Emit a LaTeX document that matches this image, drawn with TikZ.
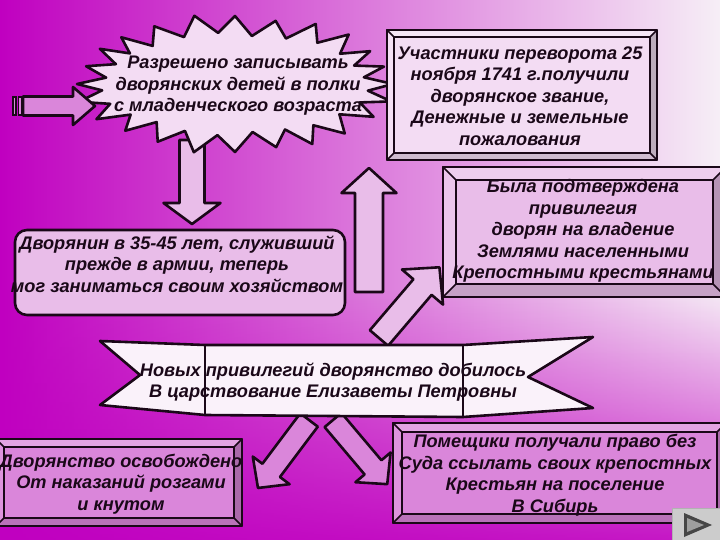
\documentclass[tikz,border=0pt]{standalone}
\usepackage{fontspec}
\setmainfont{Liberation Sans}
\usetikzlibrary{calc, fadings}

\definecolor{bgmag}{HTML}{C000C0}
\definecolor{bglight}{HTML}{F6EEF6}
\definecolor{inkdark}{HTML}{1A0818}
\definecolor{palepink}{HTML}{F3DCF3}
\definecolor{lightpink}{HTML}{E9BDE9}
\definecolor{midpink}{HTML}{DA86DA}
\definecolor{ribbon}{HTML}{FAF2FA}

% block arrow: tail, angle, length, shaft half width, head half width, head length, fill
\newcommand{\blkarrow}[7]{%
  \begin{scope}[shift={(#1)}, rotate=#2]
    \filldraw[shapeline, fill=#7] (0,-#4) -- ({#3-#6},-#4) -- ({#3-#6},-#5) -- (#3,0)
      -- ({#3-#6},#5) -- ({#3-#6},#4) -- (0,#4) -- cycle;
  \end{scope}}

% bevelled box: x1, y1, x2, y2, inset, fill
\newcommand{\bevelbox}[6]{%
  \filldraw[shapeline, fill=#6] (#1,#2) rectangle (#3,#4);
  \fill[#6!75!white] (#1,#2) -- (#3,#2) -- ({#3-#5},{#2+#5}) -- ({#1+#5},{#2+#5}) -- cycle;
  \fill[#6!88!white] (#1,#2) -- ({#1+#5},{#2+#5}) -- ({#1+#5},{#4-#5}) -- (#1,#4) -- cycle;
  \fill[#6!78!black] (#3,#2) -- ({#3-#5},{#2+#5}) -- ({#3-#5},{#4-#5}) -- (#3,#4) -- cycle;
  \fill[#6!85!black] (#1,#4) -- ({#1+#5},{#4-#5}) -- ({#3-#5},{#4-#5}) -- (#3,#4) -- cycle;
  \draw[shapeline] (#1,#2) rectangle (#3,#4);
  \draw[innerline] ({#1+#5},{#2+#5}) rectangle ({#3-#5},{#4-#5});
  \draw[innerline] (#1,#2) -- ({#1+#5},{#2+#5}) (#3,#2) -- ({#3-#5},{#2+#5})
    (#1,#4) -- ({#1+#5},{#4-#5}) (#3,#4) -- ({#3-#5},{#4-#5});}

\begin{document}
\begin{tikzpicture}[
    x=1pt, y=-1pt,
    shapeline/.style={draw=inkdark, line width=2.6pt, line join=round},
    innerline/.style={draw=inkdark, line width=1.6pt},
    txt/.style={
        align=center,
        inner sep=0pt,
        text=inkdark,
        font=\bfseries\itshape\fontsize{18.2}{21.5}\selectfont
    }
]
\useasboundingbox (0,0) rectangle (720,540);
\clip (0,0) rectangle (720,540);

% Background
\shade[left color=bgmag, right color=bglight] (0,0) rectangle (720,540);
\fill[bgmag, fill opacity=0.9, path fading=north] (0,290) rectangle (720,540);

% Starburst with its feeder arrows
\blkarrow{192,140}{-90}{84}{12.5}{28.5}{21}{lightpink}
\filldraw[shapeline, fill=palepink] plot[samples at={0,7.5,...,352.5}]
    ({235+(mod(\x,15)==0 ? 158 : 132)*(1+0.025*sin(5*\x))*cos(\x)},
     {84+(mod(\x,15)==0 ? 68 : 50)*(1+0.04*cos(7*\x))*sin(\x)}) -- cycle;
\node[txt] (burst) at (238,86) {Разрешено записывать\\дворянских детей в полки\\с младенческого возраста};

\filldraw[innerline, fill=midpink] (13,97) rectangle (16,115);
\filldraw[innerline, fill=midpink] (18.5,97) rectangle (21.5,115);
\blkarrow{23,106}{0}{72}{9.5}{19}{22}{midpink}

% Upper right boxes
\bevelbox{387}{30}{657}{160}{7}{palepink}
\node[txt] (grant) at (520,96) {Участники переворота 25\\ноября 1741 г.получили\\дворянское звание,\\Денежные и земельные\\пожалования};

\bevelbox{443}{167}{726}{297}{13}{lightpink}
\node[txt] (confirm) at (583,231) {Была подтверждена\\привилегия\\дворян на владение\\Землями населенными\\Крепостными крестьянами};

% Middle row
\filldraw[shapeline, fill=lightpink, rounded corners=12pt] (15,230) rectangle (345,315);
\node[txt] (noble) at (177,264) {Дворянин в 35-45 лет, служивший\\прежде в армии, теперь\\мог заниматься своим хозяйством};

\blkarrow{369,292}{90}{124}{14}{27.5}{25}{lightpink}
\blkarrow{379,338}{49.5}{93}{12}{27}{26}{lightpink}

% Ribbon
\blkarrow{309,420}{-126.9}{85}{11}{23}{22}{midpink}
\blkarrow{333,420}{-49.8}{84}{11}{23}{22}{midpink}
\filldraw[shapeline, fill=ribbon] (100,341) -- (205,345) -- (463,345) -- (593,337)
    -- (528,377) -- (593,408) -- (463,417) -- (205,415) -- (100,405) -- (140,375) -- cycle;
\draw[shapeline] (205,345) -- (205,415) (463,345) -- (463,417);
\node[txt] (banner) at (333,382) {Новых привилегий дворянство добилось\\В царствование Елизаветы Петровны};

% Bottom boxes
\bevelbox{-4}{439}{242}{526}{8}{midpink}
\node[txt] (freed) at (121,484) {Дворянство освобождено\\От наказаний розгами\\и кнутом};

\bevelbox{393}{423}{726}{523}{9}{midpink}
\node[txt] (exile) at (555,475) {Помещики получали право без\\Суда ссылать своих крепостных\\Крестьян на поселение\\В Сибирь};

% Navigation button
\filldraw[fill=gray!40, draw=gray!60] (672,508) rectangle (722,542);
\fill[gray!55!black] (684,513) -- (712,525) -- (684,537) -- cycle;
\fill[gray!75] (687,518) -- (704,525) -- (687,532) -- cycle;

\end{tikzpicture}
\end{document}
